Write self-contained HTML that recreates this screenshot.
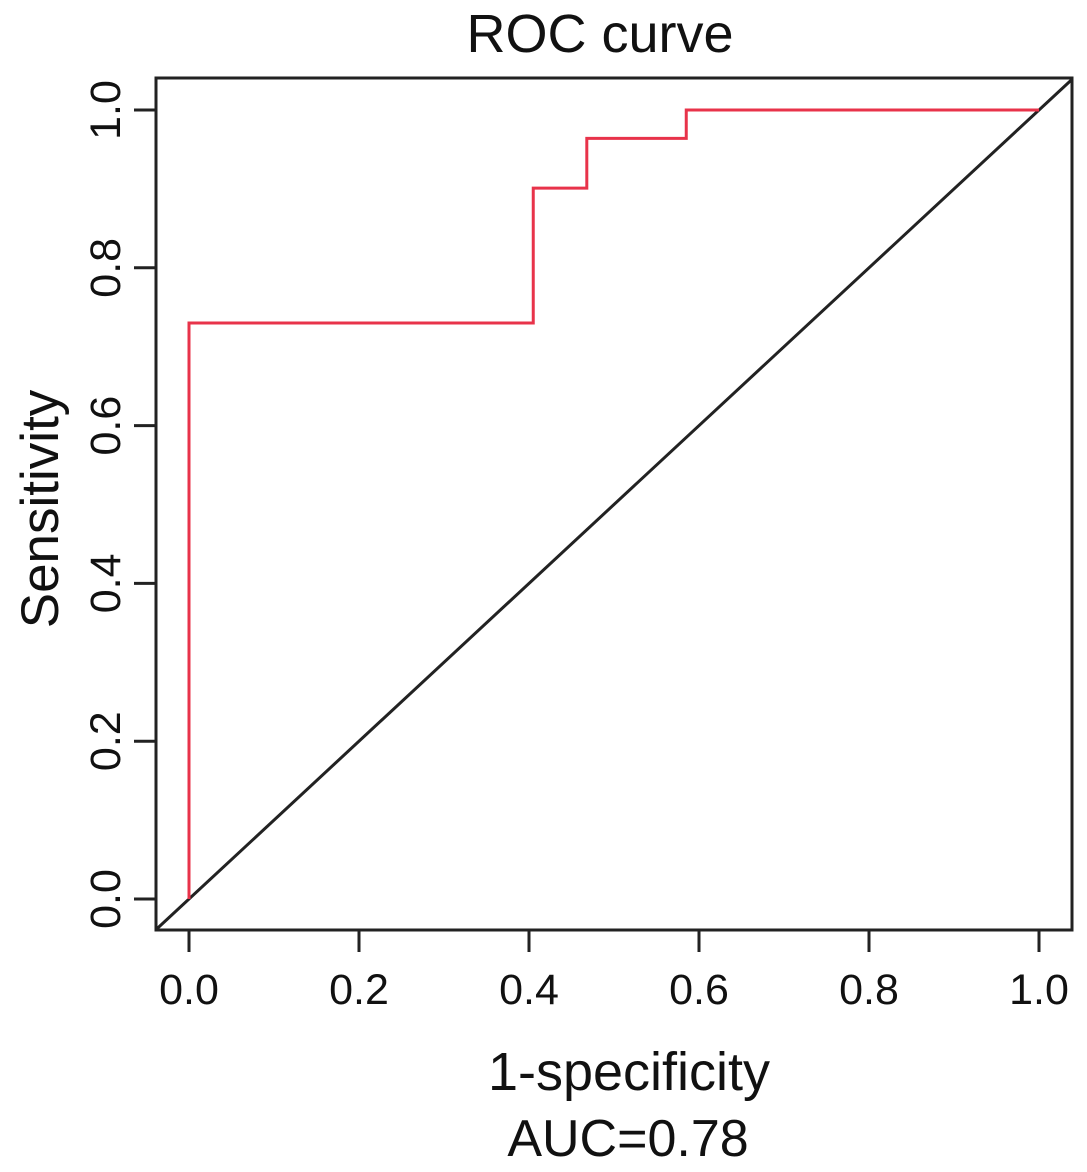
<!DOCTYPE html>
<html><head><meta charset="utf-8"><style>
html,body{margin:0;padding:0;background:#fff}
svg{display:block;font-family:"Liberation Sans",Arial,sans-serif}
</style></head><body>
<svg width="1087" height="1172" viewBox="0 0 1087 1172">
<text x="600" y="52" font-size="54" text-anchor="middle" fill="#111">ROC curve</text>
<rect x="156" y="78" width="916" height="852" fill="none" stroke="#222" stroke-width="3"/>
<g id="axes"></g>
<g id="marks"></g>
<text x="629" y="1090" font-size="54" text-anchor="middle" fill="#111">1-specificity</text>
<text x="628" y="1156" font-size="52" text-anchor="middle" fill="#111">AUC=0.78</text>
<text transform="translate(58,509) rotate(-90)" font-size="53" text-anchor="middle" fill="#111">Sensitivity</text>
</svg>
<script>
const xTicks=[0,0.2,0.4,0.6,0.8,1.0];
const yTicks=[0,0.2,0.4,0.6,0.8,1.0];
const tickLabels=["0.0","0.2","0.4","0.6","0.8","1.0"];
const fpr=[0,0,0.405,0.405,0.468,0.468,0.585,0.585,1];
const tpr=[0,0.73,0.73,0.901,0.901,0.964,0.964,1,1];
const NS="http://www.w3.org/2000/svg";
const sx=v=>189+v*850, sy=v=>899-v*789;
const axes=document.getElementById('axes'), marks=document.getElementById('marks');
function mk(tag,attrs,parent){const e=document.createElementNS(NS,tag);for(const k in attrs)e.setAttribute(k,attrs[k]);parent.appendChild(e);return e;}
xTicks.forEach((v,i)=>{
  const l=mk('line',{x1:sx(v),x2:sx(v),y1:930,y2:952,stroke:'#222','stroke-width':3},axes);
  
  
  const t=mk('text',{x:sx(v),y:1004,'font-size':43,'text-anchor':'middle',fill:'#111'},axes);
  t.textContent=tickLabels[i];
  
  
});
yTicks.forEach((v,i)=>{
  const l=mk('line',{x1:134,x2:156,y1:sy(v),y2:sy(v),stroke:'#222','stroke-width':3},axes);
  
  
  const t=mk('text',{transform:`translate(120,${sy(v)}) rotate(-90)`,'font-size':43,'text-anchor':'middle',fill:'#111'},axes);
  t.textContent=tickLabels[i];
  
  
});
const lo=(156-189)/850, hi=(1072-189)/850;
const d=mk('line',{x1:sx(lo),y1:sy(lo),x2:sx(hi),y2:sy(hi),stroke:'#222','stroke-width':3},marks);


const pts=fpr.map((x,i)=>sx(x)+','+sy(tpr[i])).join(' ');
const p=mk('polyline',{points:pts,fill:'none',stroke:'#e8334a','stroke-width':3},marks);


</script>
</body></html>
